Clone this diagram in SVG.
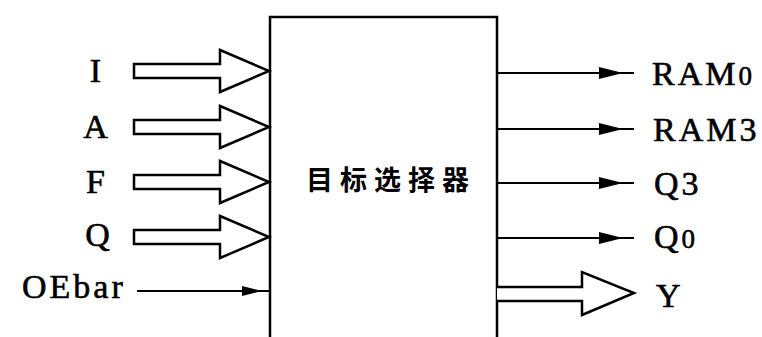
<svg xmlns="http://www.w3.org/2000/svg" width="762" height="337" viewBox="0 0 762 337">
<style>
.lbl{font-family:"Liberation Serif","Times New Roman",serif;font-size:34px;letter-spacing:3px;fill:#000;stroke:#000;stroke-width:0.6}
.ln{stroke:#000;stroke-width:2;fill:none}
.bus{stroke:#000;stroke-width:2.5;fill:#fff;stroke-linejoin:miter}
.box{stroke:#000;stroke-width:2.5;fill:#fff}
.cjk{font-family:"Noto Sans CJK SC",sans-serif;font-size:27px;font-weight:bold;letter-spacing:7px}
</style>
<rect width="762" height="337" fill="#fff"/>
<g id="selector">
<path class="box" d="M270,340 L270,17 L497,17 L497,340"/>
<text class="cjk" x="391" y="190" text-anchor="middle">目标选择器</text>
</g>
<g id="connectors">
<path id="bus-I" class="bus" d="M134,64 L220,64 L220,50 L269,71 L220,92 L220,78 L134,78 Z"/>
<path id="bus-A" class="bus" d="M134,120 L220,120 L220,106 L269,127 L220,148 L220,134 L134,134 Z"/>
<path id="bus-F" class="bus" d="M134,175 L220,175 L220,161 L269,182 L220,203 L220,189 L134,189 Z"/>
<path id="bus-Q" class="bus" d="M134,230 L220,230 L220,216 L269,237 L220,258 L220,244 L134,244 Z"/>
<line class="ln" x1="137" y1="291" x2="270" y2="291"/>
<path d="M242,286 L262,291 L242,296 Z" fill="#000"/>
<line class="ln" x1="497" y1="73" x2="634" y2="73"/>
<path d="M599,67 L623,73 L599,79 Z" fill="#000"/>
<line class="ln" x1="497" y1="129" x2="634" y2="129"/>
<path d="M599,123 L623,129 L599,135 Z" fill="#000"/>
<line class="ln" x1="497" y1="183" x2="634" y2="183"/>
<path d="M599,177 L623,183 L599,189 Z" fill="#000"/>
<line class="ln" x1="497" y1="238" x2="634" y2="238"/>
<path d="M599,232 L623,238 L599,244 Z" fill="#000"/>
<path id="bus-Y" class="bus" d="M497,287 L582,287 L582,272 L634,293 L582,315 L582,301 L497,301"/>
</g>
<g id="labels">
<text class="lbl" x="97" y="82" text-anchor="middle">I</text>
<text class="lbl" x="97" y="138" text-anchor="middle">A</text>
<text class="lbl" x="97" y="193" text-anchor="middle">F</text>
<text class="lbl" x="99" y="246" text-anchor="middle">Q</text>
<text class="lbl" x="22" y="298">OEbar</text>
<text class="lbl" x="652" y="85">RAM<tspan font-size="27">0</tspan></text>
<text class="lbl" x="653" y="141">RAM3</text>
<text class="lbl" x="654" y="195">Q3</text>
<text class="lbl" x="654" y="248">Q<tspan font-size="27">0</tspan></text>
<text class="lbl" x="656" y="307">Y</text>
</g>
</svg>
